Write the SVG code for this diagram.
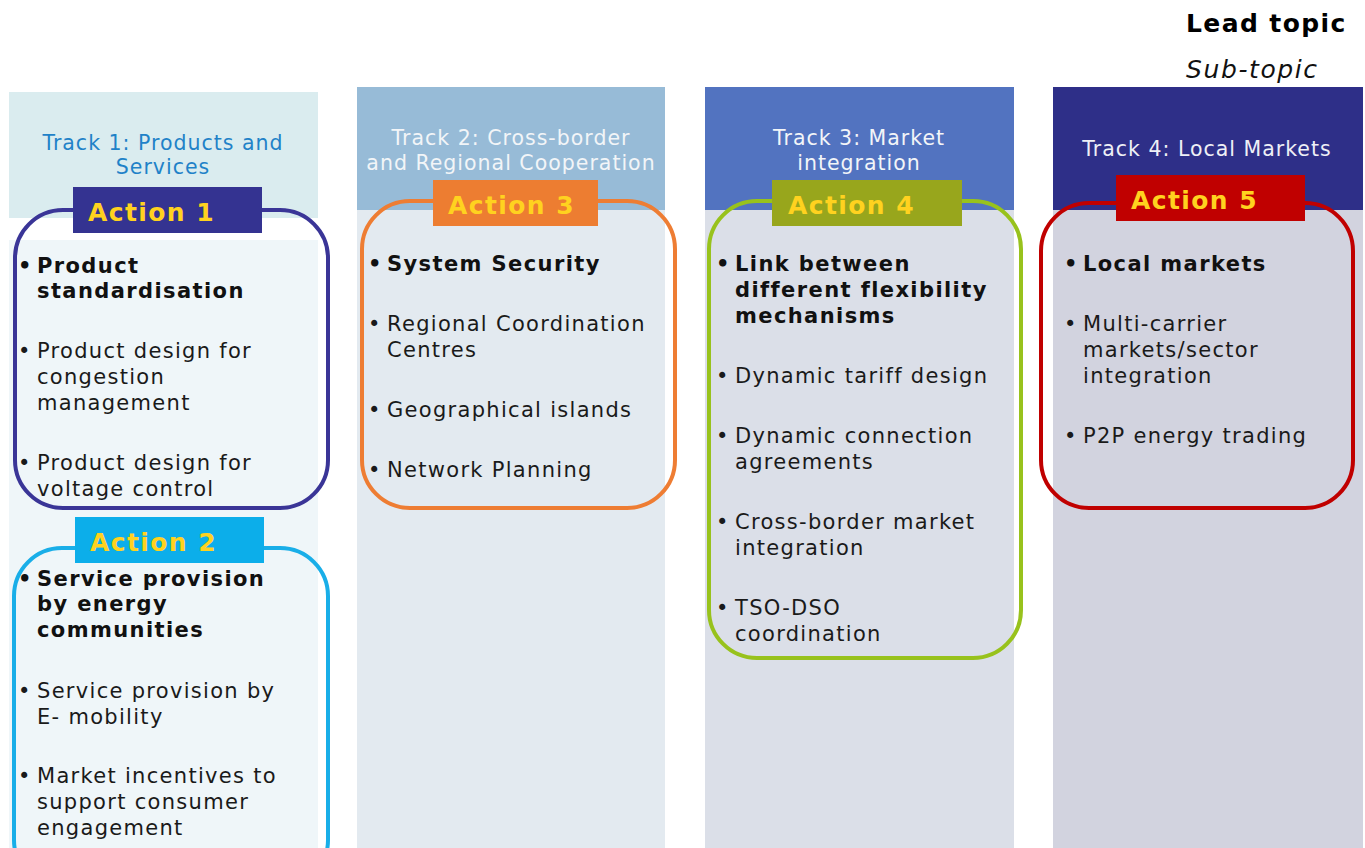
<svg xmlns="http://www.w3.org/2000/svg" width="1365" height="848" viewBox="0 0 1365 848">
<style>
text{font-family:"DejaVu Sans","Verdana",sans-serif;}
.b{font-size:21px;fill:#1a1a1a;letter-spacing:1.3px;}
.bb{font-size:21px;fill:#111;font-weight:bold;letter-spacing:1.4px;}
.hd{font-size:20.5px;text-anchor:middle;letter-spacing:1px;}
.act{font-size:25px;font-weight:bold;fill:#ffd21f;letter-spacing:1.4px;}
.frame{fill:none;stroke-width:4;}
</style>
<rect width="1365" height="848" fill="#ffffff"/>
<g id="legend">
<text x="1186" y="32" font-size="25" font-weight="bold" fill="#000" letter-spacing="1.4">Lead topic</text>
<text x="1186" y="78" font-size="25" font-style="italic" fill="#111" letter-spacing="1.6">Sub-topic</text>
</g>
<g id="track1">
<rect x="9" y="92" width="309" height="126" fill="#daecef"/>
<rect x="9" y="240" width="309" height="608" fill="#eff6f9"/>
<text class="hd" fill="#1f82c8"><tspan x="163" y="150">Track 1: Products and</tspan><tspan x="163" y="174">Services</tspan></text>
</g>
<g id="track2">
<rect x="357" y="87" width="308" height="123" fill="#97bbd7"/>
<rect x="357" y="210" width="308" height="638" fill="#e3eaf0"/>
<text class="hd" fill="#f2f5f8"><tspan x="511" y="145">Track 2: Cross-border</tspan><tspan x="511" y="170">and Regional Cooperation</tspan></text>
</g>
<g id="track3">
<rect x="705" y="87" width="309" height="123" fill="#5273c0"/>
<rect x="705" y="210" width="309" height="638" fill="#dbdfe8"/>
<text class="hd" fill="#f2f5f8"><tspan x="859" y="145">Track 3: Market</tspan><tspan x="859" y="170">integration</tspan></text>
</g>
<g id="track4">
<rect x="1053" y="87" width="310" height="123" fill="#2e2f88"/>
<rect x="1053" y="210" width="310" height="638" fill="#d2d3df"/>
<text class="hd" fill="#eef0f6"><tspan x="1207" y="156">Track 4: Local Markets</tspan></text>
</g>
<g id="action1">
<rect class="frame" x="15" y="210" width="313" height="298" rx="48" stroke="#3a3597"/>
<rect x="73" y="187" width="189" height="46" fill="#343391"/>
<text class="act" x="88" y="221">Action 1</text>
<text class="bb"><tspan x="18" y="273">•</tspan><tspan x="37" y="273">Product</tspan><tspan x="37" y="298">standardisation</tspan></text>
<text class="b"><tspan x="18" y="358">•</tspan><tspan x="37" y="358">Product design for</tspan><tspan x="37" y="384">congestion</tspan><tspan x="37" y="410">management</tspan></text>
<text class="b"><tspan x="18" y="470">•</tspan><tspan x="37" y="470">Product design for</tspan><tspan x="37" y="496">voltage control</tspan></text>
</g>
<g id="action2">
<rect class="frame" x="14" y="548" width="314" height="340" rx="48" stroke="#19aee8"/>
<rect x="75" y="517" width="189" height="46" fill="#0caeea"/>
<text class="act" x="90" y="551">Action 2</text>
<text class="bb"><tspan x="18" y="586">•</tspan><tspan x="37" y="586">Service provision</tspan><tspan x="37" y="611">by energy</tspan><tspan x="37" y="637">communities</tspan></text>
<text class="b"><tspan x="18" y="698">•</tspan><tspan x="37" y="698">Service provision by</tspan><tspan x="37" y="724">E- mobility</tspan></text>
<text class="b"><tspan x="18" y="783">•</tspan><tspan x="37" y="783">Market incentives to</tspan><tspan x="37" y="809">support consumer</tspan><tspan x="37" y="835">engagement</tspan></text>
</g>
<g id="action3">
<rect class="frame" x="362" y="201" width="313" height="307" rx="48" stroke="#ee7d33"/>
<rect x="433" y="180" width="165" height="46" fill="#ed7d31"/>
<text class="act" x="448" y="214">Action 3</text>
<text class="bb"><tspan x="368" y="271">•</tspan><tspan x="387" y="271">System Security</tspan></text>
<text class="b"><tspan x="368" y="331">•</tspan><tspan x="387" y="331">Regional Coordination</tspan><tspan x="387" y="357">Centres</tspan></text>
<text class="b"><tspan x="368" y="417">•</tspan><tspan x="387" y="417">Geographical islands</tspan></text>
<text class="b"><tspan x="368" y="477">•</tspan><tspan x="387" y="477">Network Planning</tspan></text>
</g>
<g id="action4">
<rect class="frame" x="709" y="201" width="312" height="457" rx="48" stroke="#98c21c"/>
<rect x="772" y="180" width="190" height="46" fill="#98a61c"/>
<text class="act" x="788" y="214">Action 4</text>
<text class="bb"><tspan x="716" y="271">•</tspan><tspan x="735" y="271">Link between</tspan><tspan x="735" y="297">different flexibility</tspan><tspan x="735" y="323">mechanisms</tspan></text>
<text class="b"><tspan x="716" y="383">•</tspan><tspan x="735" y="383">Dynamic tariff design</tspan></text>
<text class="b"><tspan x="716" y="443">•</tspan><tspan x="735" y="443">Dynamic connection</tspan><tspan x="735" y="469">agreements</tspan></text>
<text class="b"><tspan x="716" y="529">•</tspan><tspan x="735" y="529">Cross-border market</tspan><tspan x="735" y="555">integration</tspan></text>
<text class="b"><tspan x="716" y="615">•</tspan><tspan x="735" y="615">TSO-DSO</tspan><tspan x="735" y="641">coordination</tspan></text>
</g>
<g id="action5">
<rect class="frame" x="1041" y="203" width="312" height="305" rx="48" stroke="#c00000"/>
<rect x="1116" y="175" width="189" height="46" fill="#c00000"/>
<text class="act" x="1131" y="209">Action 5</text>
<text class="bb"><tspan x="1064" y="271">•</tspan><tspan x="1083" y="271">Local markets</tspan></text>
<text class="b"><tspan x="1064" y="331">•</tspan><tspan x="1083" y="331">Multi-carrier</tspan><tspan x="1083" y="357">markets/sector</tspan><tspan x="1083" y="383">integration</tspan></text>
<text class="b"><tspan x="1064" y="443">•</tspan><tspan x="1083" y="443">P2P energy trading</tspan></text>
</g>
<g id="connectors"></g>
</svg>
